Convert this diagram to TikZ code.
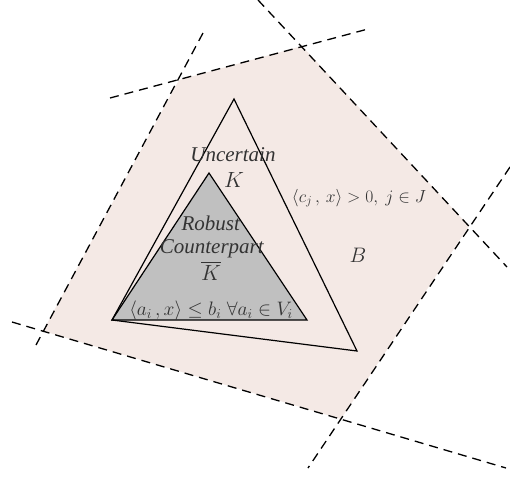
\RequirePackage{fix-cm}
\documentclass[tikz,border=0pt]{standalone}
\usepackage{amsmath,amssymb}
\usepackage{fontspec}
\setmainfont{Liberation Serif}
\usepackage{xcolor}
\usepackage{tikz}
\usetikzlibrary{calc}
\definecolor{bpink}{HTML}{F4E9E5}
\definecolor{rcgray}{HTML}{C0C0C0}
\definecolor{txtgray}{HTML}{333333}

\begin{document}
\begin{tikzpicture}[x=1pt,y=-1pt,
    lbl/.style={text=txtgray,font=\fontsize{21}{24}\selectfont,inner sep=1pt,align=center},
    mlbl/.style={lbl,font=\fontsize{#1}{22}\selectfont},
    cut/.style={line width=1.3pt,dash pattern=on 9pt off 6pt}]
  \useasboundingbox (0,0) rectangle (510,477);
  % vertices of B
  \coordinate (bt) at (302,46);
  \coordinate (br) at (469,226);
  \coordinate (bb) at (341,419);
  \coordinate (bl) at (43,331);
  \coordinate (btl) at (179,80);
  \fill[bpink] (bt) -- (br) -- (bb) -- (bl) -- (btl) -- cycle;
  % cutting lines
  \coordinate (c1a) at (110,98);  \coordinate (c1b) at (368,29);
  \coordinate (c2a) at (258,0);   \coordinate (c2b) at (507,267);
  \coordinate (c3a) at (510,167); \coordinate (c3b) at (308,468);
  \coordinate (c4a) at (12,322);  \coordinate (c4b) at (506,468);
  \coordinate (c5a) at (203,33);  \coordinate (c5b) at (36,345);
  \foreach \i in {1,...,5}
    \draw[cut] (c\i a) -- (c\i b);
  % triangles
  \coordinate (kl) at (112,320);
  \coordinate (kt) at (234,99);
  \coordinate (kr) at (357,351);
  \coordinate (rt) at (209,173);
  \coordinate (rr) at (307,320);
  \draw[fill=rcgray,line width=1.2pt] (kl) -- (rt) -- (rr) -- cycle;
  \draw[line width=1.2pt] (kl) -- (kt) -- (kr) -- cycle;
  % labels
  \node[lbl] (unc) at (233,155) {\textit{Uncertain}};
  \node[mlbl=22] (k) at (234,180) {$K$};
  \node[lbl] (rob) at (211,223) {\textit{Robust}};
  \node[lbl] (cp) at (212,249) {\textit{Counterpart}};
  \node[mlbl=22] (kbar) at (211,271) {$\overline{K}$};
  \node[mlbl=19.5] (cons) at (211,311) {$\langle a_i\,, x\rangle \leq b_i\;\forall a_i \in V_i$};
  \node[mlbl=17.5] (cj) at (359,198) {$\langle c_j\,,\, x\rangle > 0,\ j \in J$};
  \node[mlbl=21] (b) at (358,255) {$B$};
\end{tikzpicture}
\end{document}
